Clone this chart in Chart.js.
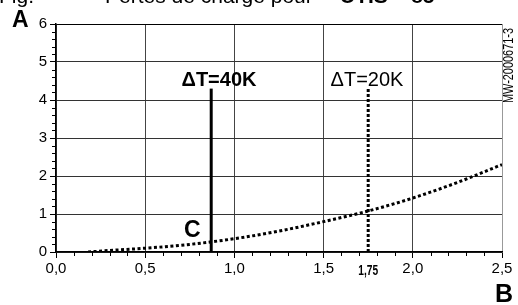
<!DOCTYPE html>
<html>
<head>
<meta charset="utf-8">
<script src="https://cdn.jsdelivr.net/npm/chart.js@4.4.1/dist/chart.umd.min.js"></script>
<style>
  html, body { margin: 0; padding: 0; background: #fff; }
  #wrap { width: 518px; height: 305px; position: relative; }
</style>
</head>
<body>
<div id="wrap"><canvas id="chart" width="518" height="305"></canvas></div>
<script>
// flow rate (B axis) and pressure loss (A axis)
const flowValues = [0.18, 0.3, 0.5, 0.75, 1.0, 1.25, 1.5, 1.75, 2.0, 2.25, 2.5];
const lossValues = [0.0, 0.04, 0.1, 0.2, 0.35, 0.55, 0.8, 1.08, 1.42, 1.83, 2.3];

// vertical markers for the two delta T cases
const markerLabels = ["\u0394T=40K", "\u0394T=20K"];
const markerFlow = [0.87, 1.75];
const markerTop = [4.3, 4.3];

const xTicks = [0, 0.5, 1.0, 1.5, 2.0, 2.5];
const yTicks = [0, 1, 2, 3, 4, 5, 6];

const FONT = "'Liberation Sans', Arial, sans-serif";

const curveData = flowValues.map((x, i) => ({ x: x, y: lossValues[i] }));
const markerData = markerFlow.map((x, i) => [{ x: x, y: 0 }, { x: x, y: markerTop[i] }]);

// minor ticks + annotations
const extras = {
  id: "extras",
  afterDraw(chart) {
    const { ctx, chartArea, scales } = chart;
    const xs = scales.x, ys = scales.y;
    ctx.save();
    ctx.strokeStyle = "#000";
    ctx.lineWidth = 1;
    ctx.beginPath();
    for (let i = 0; i <= 25; i++) {
      if (i % 5 === 0) continue;
      const px = Math.round(xs.getPixelForValue(i / 10)) + 0.5;
      ctx.moveTo(px, chartArea.bottom);
      ctx.lineTo(px, chartArea.bottom + 4);
    }
    for (let i = 0; i <= 30; i++) {
      if (i % 5 === 0) continue;
      const py = Math.round(ys.getPixelForValue(i / 5)) + 0.5;
      ctx.moveTo(chartArea.left - 4, py);
      ctx.lineTo(chartArea.left, py);
    }
    ctx.stroke();

    ctx.fillStyle = "#000";
    ctx.textBaseline = "alphabetic";

    // cut-off caption at the very top
    ctx.font = "21px " + FONT;
    ctx.textAlign = "left";
    ctx.fillText("Fig.", -1, 3);
    ctx.fillText("Pertes de charge pour", 105, 3);
    ctx.font = "bold 21px " + FONT;
    ctx.fillText("UTIS \u2013 85", 340, 3);

    ctx.font = "bold 23px " + FONT;
    ctx.fillText("A", 12, 27);
    ctx.font = "bold 25px " + FONT;
    ctx.fillText("B", 495, 302);
    ctx.font = "bold 23px " + FONT;
    ctx.fillText("C", 184, 237);

    // delta T labels
    ctx.font = "bold 20px " + FONT;
    ctx.textAlign = "center";
    ctx.fillText(markerLabels[0], 219, 86);
    ctx.font = "20px " + FONT;
    ctx.fillText(markerLabels[1], 367, 86);

    // 1,75 marker label
    ctx.font = "bold 12px " + FONT;
    ctx.save();
    ctx.translate(xs.getPixelForValue(markerFlow[1]), 275);
    ctx.scale(0.85, 1.15);
    ctx.fillText("1,75", 0, 0);
    ctx.restore();

    // drawing reference
    ctx.save();
    ctx.translate(513, 28);
    ctx.rotate(-Math.PI / 2);
    ctx.scale(0.78, 1);
    ctx.font = "14px " + FONT;
    ctx.textAlign = "right";
    ctx.fillText("MW-2000671-3", 0, 0);
    ctx.restore();

    ctx.restore();
  }
};

const chart = new Chart(document.getElementById("chart"), {
  type: "scatter",
  data: {
    datasets: [
      {
        data: curveData,
        showLine: true,
        borderColor: "#000",
        borderWidth: 3,
        borderDash: [3, 2.5],
        pointRadius: 0,
        cubicInterpolationMode: "monotone"
      },
      {
        data: markerData[0],
        showLine: true,
        borderColor: "#000",
        borderWidth: 3,
        pointRadius: 0
      },
      {
        data: markerData[1],
        showLine: true,
        borderColor: "#000",
        borderWidth: 3,
        borderDash: [3, 2],
        pointRadius: 0
      }
    ]
  },
  options: {
    responsive: false,
    animation: false,
    layout: { padding: { top: 24, right: 16, left: 0, bottom: 0 } },
    plugins: { legend: { display: false }, tooltip: { enabled: false } },
    scales: {
      x: {
        type: "linear",
        min: 0,
        max: 2.5,
        afterFit: s => { s.height = 53; },
        afterBuildTicks: s => { s.ticks = xTicks.map(v => ({ value: v })); },
        ticks: {
          color: "#000",
          padding: 2,
          font: { family: FONT, size: 15 },
          callback: v => v.toFixed(1).replace(".", ",")
        },
        grid: {
          color: c => (c.tick && c.tick.value === 2.5 ? "#999" : "#444"),
          lineWidth: 1,
          tickLength: 6,
          tickColor: "#000"
        },
        border: { color: "#000", width: 1.5 }
      },
      y: {
        min: 0,
        max: 6,
        afterFit: s => { s.width = 56; },
        afterBuildTicks: s => { s.ticks = yTicks.map(v => ({ value: v })); },
        ticks: {
          color: "#000",
          padding: 3,
          font: { family: FONT, size: 15 },
          callback: v => String(v)
        },
        grid: {
          color: c => (c.tick && c.tick.value === 6 ? "#000" : "#333"),
          lineWidth: 1,
          tickLength: 6,
          tickColor: "#000"
        },
        border: { color: "#000", width: 1.5 }
      }
    }
  },
  plugins: [extras]
});
</script>
</body>
</html>
